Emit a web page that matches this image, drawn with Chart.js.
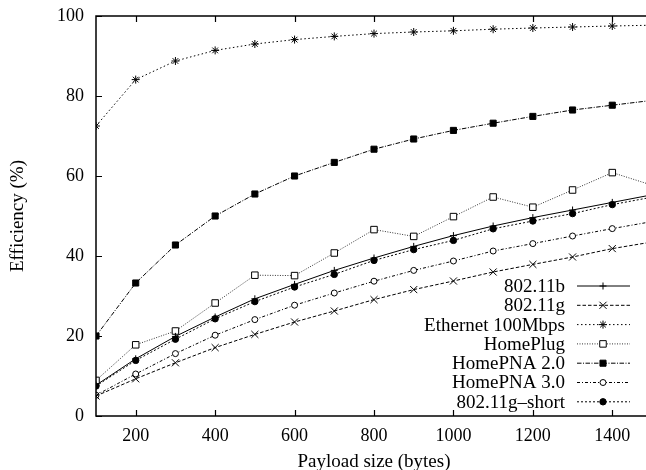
<!DOCTYPE html>
<html><head><meta charset="utf-8">
<script src="https://cdn.jsdelivr.net/npm/chart.js@4/dist/chart.umd.min.js"></script>
<style>
html,body{margin:0;padding:0;background:#fff;overflow:hidden}
#wrap{width:646px;height:470px;overflow:hidden;position:relative;background:#fff}
canvas{display:block}
</style></head>
<body><div id="wrap"><canvas id="c" width="660" height="474"></canvas></div>
<script>
// ---- data ----
const payloadSizes = [100,200,300,400,500,600,700,800,900,1000,1100,1200,1300,1400,1500];
const xTickValues = [200,400,600,800,1000,1200,1400];
const yTickValues = [0,20,40,60,80,100];
const seriesLabels = ['802.11b','802.11g','Ethernet 100Mbps','HomePlug','HomePNA 2.0','HomePNA 3.0','802.11g\u2013short'];
const eff80211b   = [7.7,14.3,19.9,24.75,29.3,32.9,36.4,39.5,42.4,45.1,47.5,49.6,51.5,53.4,55.3];
const eff80211g   = [5.0,9.3,13.3,17.1,20.4,23.5,26.25,29.1,31.6,33.75,36.0,37.9,39.75,41.85,43.5];
const effEthernet = [72.5,84.1,88.75,91.4,93.0,94.1,94.9,95.6,96.0,96.3,96.7,97.0,97.25,97.5,97.7];
const effHomePlug = [8.9,17.8,21.25,28.25,35.2,35.1,40.75,46.6,44.9,49.85,54.75,52.2,56.5,60.85,57.7];
const effHomePNA2 = [20.0,33.25,42.75,50.0,55.5,60.0,63.4,66.7,69.25,71.4,73.2,74.9,76.5,77.7,78.9];
const effHomePNA3 = [5.2,10.5,15.6,20.2,24.1,27.7,30.75,33.7,36.4,38.75,41.25,43.1,45.0,46.85,48.6];
const eff80211gShort = [7.5,13.9,19.2,24.3,28.6,32.25,35.4,38.9,41.6,43.9,46.8,48.75,50.6,52.85,54.7];

const seriesValues = [eff80211b,eff80211g,effEthernet,effHomePlug,effHomePNA2,effHomePNA3,eff80211gShort];
const styles = [
  {dash:[],           ps:'cross',    r:3.5, fill:'#000'},
  {dash:[3.5,2],      ps:'crossRot', r:5,   fill:'#000'},
  {dash:[1.5,2.5],    ps:'star',     r:4,   fill:'#000'},
  {dash:[1,1.5],      ps:'rect',     r:4.6, fill:'#fff'},
  {dash:[4.5,1.5,1,1.5], ps:'rect',  r:4.3, fill:'#000'},
  {dash:[3,2,1,2],    ps:'circle',   r:3,   fill:'#fff'},
  {dash:[2,2],        ps:'circle',   r:3.2, fill:'#000'}
];

const FONT = "'Liberation Serif','Times New Roman',serif";
Chart.defaults.font.family = FONT;
Chart.defaults.font.size = 18;
Chart.defaults.color = '#000';

const datasets = seriesLabels.map((lab,i)=>({
  label: lab,
  data: payloadSizes.map((p,k)=>({x:p,y:seriesValues[i][k]})),
  borderColor: i===3 ? '#333' : '#000',
  borderWidth: 1,
  borderDash: styles[i].dash,
  pointStyle: styles[i].ps,
  pointRadius: styles[i].r,
  pointBackgroundColor: styles[i].fill,
  pointBorderColor: '#000',
  pointBorderWidth: 1,
  tension: 0,
  fill: false
}));

const framePlugin = {
  id:'frame',
  afterDatasetsDraw(chart){
    const {ctx, chartArea:a, scales:{x,y}} = chart;
    ctx.save();
    ctx.strokeStyle='#000'; ctx.setLineDash([]);
    ctx.lineWidth=1.5;
    ctx.strokeRect(a.left, a.top, a.right-a.left, a.bottom-a.top);
    ctx.lineWidth=1.2;
    ctx.beginPath();
    x.ticks.forEach(t=>{const px=Math.round(x.getPixelForValue(t.value))+0.5;
      ctx.moveTo(px,a.bottom); ctx.lineTo(px,a.bottom-6);
      ctx.moveTo(px,a.top); ctx.lineTo(px,a.top+6);});
    y.ticks.forEach(t=>{const py=Math.round(y.getPixelForValue(t.value))+0.5;
      ctx.moveTo(a.left,py); ctx.lineTo(a.left+6,py);
      ctx.moveTo(a.right,py); ctx.lineTo(a.right-6,py);});
    ctx.stroke(); ctx.restore();
  }
};

const legendPlugin = {
  id:'gpLegend',
  afterDraw(chart){
    const {ctx, chartArea:a} = chart;
    const textRight = a.right-87, s0 = a.right-75, s1 = a.right-22, mx = a.right-49;
    const y0 = a.bottom-130, dy = 19.3;
    ctx.save();
    chart.data.datasets.forEach((ds,i)=>{
      const yy = y0 + i*dy;
      ctx.font = "19px " + FONT;
      ctx.fillStyle='#000'; ctx.textAlign='right'; ctx.textBaseline='middle';
      ctx.fillText(ds.label, textRight, yy+1);
      ctx.strokeStyle = ds.borderColor; ctx.lineWidth = ds.borderWidth;
      ctx.setLineDash(ds.borderDash);
      ctx.beginPath(); ctx.moveTo(s0,yy); ctx.lineTo(s1,yy); ctx.stroke();
      ctx.setLineDash([]);
      ctx.fillStyle = ds.pointBackgroundColor; ctx.strokeStyle='#000'; ctx.lineWidth=1;
      if (Chart.helpers && Chart.helpers.drawPoint) {
        Chart.helpers.drawPoint(ctx,{pointStyle:ds.pointStyle,radius:ds.pointRadius,borderWidth:1,rotation:0},mx,yy);
      }
    });
    ctx.restore();
  }
};

new Chart(document.getElementById('c'),{
  type:'line',
  data:{datasets},
  options:{
    responsive:false, animation:false, devicePixelRatio:1,
    layout:{padding:{left:0,right:8,top:16,bottom:0}},
    plugins:{legend:{display:false},tooltip:{enabled:false}},
    scales:{
      x:{type:'linear',min:100,max:1500,
        afterBuildTicks(s){ s.ticks = xTickValues.map(v=>({value:v})); },
        afterFit(s){ s.height = 58; s.paddingLeft = 0; s.paddingRight = 0; },
        grid:{display:false,drawTicks:false},
        border:{display:false},
        ticks:{padding:9,maxRotation:0,autoSkip:false,font:{size:18},callback:(v)=>String(v)},
        title:{display:true,text:'Payload size (bytes)',font:{size:19},padding:{top:0,bottom:1}}
      },
      y:{type:'linear',min:0,max:100,
        afterBuildTicks(s){ s.ticks = yTickValues.map(v=>({value:v})); },
        afterFit(s){ s.width = 96; s.paddingTop = 0; s.paddingBottom = 0; },
        grid:{display:false,drawTicks:false},
        border:{display:false},
        ticks:{padding:12,font:{size:18},callback:(v)=>String(v)},
        title:{display:true,text:'Efficiency (%)',font:{size:19},padding:{top:7,bottom:0}}
      }
    }
  },
  plugins:[framePlugin,legendPlugin]
});
</script>
</body></html>
